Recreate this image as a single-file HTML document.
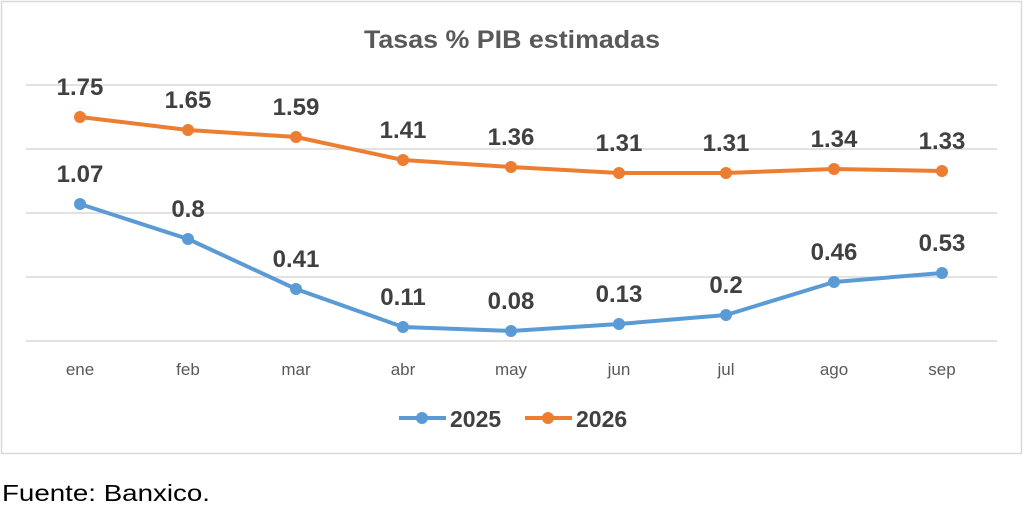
<!DOCTYPE html>
<html><head><meta charset="utf-8"><style>
body{margin:0;background:#fff;width:1024px;height:511px;overflow:hidden}
</style></head><body>
<svg width="1024" height="511" xmlns="http://www.w3.org/2000/svg" font-family="Liberation Sans, sans-serif">
<rect x="1.5" y="1.5" width="1020" height="452" fill="#fff" stroke="#d9d9d9" stroke-width="1.5"/>
<text x="512" y="48" text-anchor="middle" font-size="25" font-weight="bold" fill="#595959" textLength="296" lengthAdjust="spacingAndGlyphs">Tasas % PIB estimadas</text>
<g stroke="#d9d9d9" stroke-width="1.5">
<line x1="26" x2="997" y1="85" y2="85"/><line x1="26" x2="997" y1="149" y2="149"/><line x1="26" x2="997" y1="213" y2="213"/><line x1="26" x2="997" y1="277" y2="277"/><line x1="26" x2="997" y1="341" y2="341"/>
</g>
<g font-size="17" fill="#595959" text-anchor="middle">
<text x="80" y="375">ene</text><text x="188" y="375">feb</text><text x="296" y="375">mar</text><text x="403" y="375">abr</text><text x="511" y="375">may</text><text x="619" y="375">jun</text><text x="726" y="375">jul</text><text x="834" y="375">ago</text><text x="942" y="375">sep</text>
</g>
<polyline fill="none" stroke="#ed7d31" stroke-width="4" stroke-linejoin="round" points="80,117 188,130 296,137 403,160 511,167 619,173 726,173 834,169 942,171"/>
<polyline fill="none" stroke="#5b9bd5" stroke-width="4" stroke-linejoin="round" points="80,204 188,239 296,289 403,327 511,331 619,324 726,315 834,282 942,273"/>
<g fill="#ed7d31"><circle cx="80" cy="117" r="6"/><circle cx="188" cy="130" r="6"/><circle cx="296" cy="137" r="6"/><circle cx="403" cy="160" r="6"/><circle cx="511" cy="167" r="6"/><circle cx="619" cy="173" r="6"/><circle cx="726" cy="173" r="6"/><circle cx="834" cy="169" r="6"/><circle cx="942" cy="171" r="6"/></g>
<g fill="#5b9bd5"><circle cx="80" cy="204" r="6"/><circle cx="188" cy="239" r="6"/><circle cx="296" cy="289" r="6"/><circle cx="403" cy="327" r="6"/><circle cx="511" cy="331" r="6"/><circle cx="619" cy="324" r="6"/><circle cx="726" cy="315" r="6"/><circle cx="834" cy="282" r="6"/><circle cx="942" cy="273" r="6"/></g>
<g font-size="24" font-weight="bold" fill="#404040" text-anchor="middle">
<text x="80" y="95">1.75</text><text x="188" y="108">1.65</text><text x="296" y="115">1.59</text><text x="403" y="138">1.41</text><text x="511" y="145">1.36</text><text x="619" y="151">1.31</text><text x="726" y="151">1.31</text><text x="834" y="147">1.34</text><text x="942" y="149">1.33</text>
<text x="80" y="182">1.07</text><text x="188" y="217">0.8</text><text x="296" y="267">0.41</text><text x="403" y="305">0.11</text><text x="511" y="309">0.08</text><text x="619" y="302">0.13</text><text x="726" y="293">0.2</text><text x="834" y="260">0.46</text><text x="942" y="251">0.53</text>
</g>
<line x1="399" x2="446" y1="418" y2="418" stroke="#5b9bd5" stroke-width="4"/><circle cx="422" cy="418" r="6" fill="#5b9bd5"/>
<text x="450" y="427" font-size="23" font-weight="bold" fill="#404040">2025</text>
<line x1="525" x2="572" y1="418" y2="418" stroke="#ed7d31" stroke-width="4"/><circle cx="548" cy="418" r="6" fill="#ed7d31"/>
<text x="576" y="427" font-size="23" font-weight="bold" fill="#404040">2026</text>
<text x="2" y="501" font-size="23" fill="#000" textLength="208" lengthAdjust="spacingAndGlyphs">Fuente: Banxico.</text>
</svg>
</body></html>
